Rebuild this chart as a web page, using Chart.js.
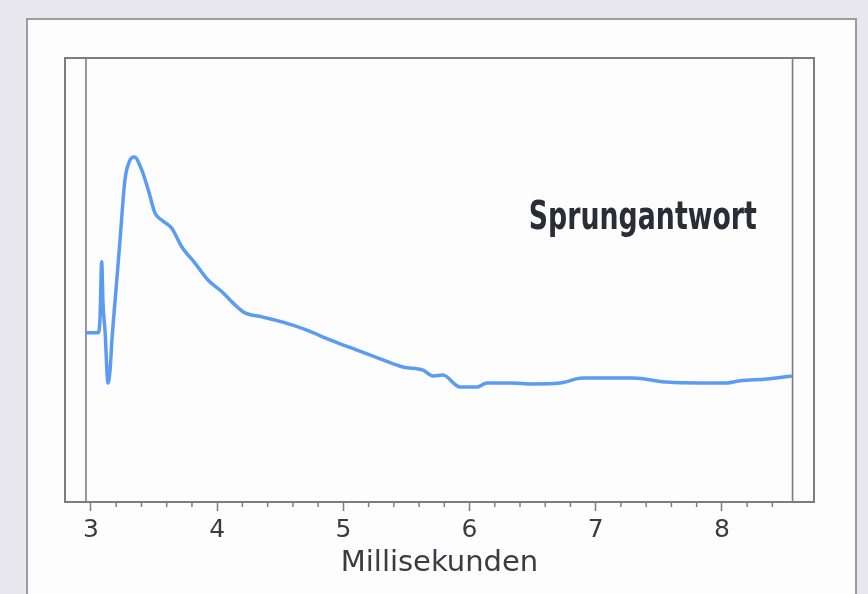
<!DOCTYPE html>
<html>
<head>
<meta charset="utf-8">
<script src="https://cdn.jsdelivr.net/npm/chart.js@4.4.1/dist/chart.umd.min.js"></script>
<style>
  html, body { margin: 0; padding: 0; }
  body { width: 868px; height: 594px; background: #e8e7ed; position: relative; overflow: hidden; }
  .panel {
    position: absolute; left: 26px; top: 18px; width: 827px; height: 600px;
    background: #fdfdfd; border: 2px solid #9c9ba3;
  }
  #wrap { position: absolute; left: 0; top: 0; width: 868px; height: 594px; }
</style>
</head>
<body>
<div class="panel"></div>
<div id="wrap"><canvas id="stepChart" width="868" height="594"></canvas></div>
<script>
// Sprungantwort (y in arbitrary units, 0..100 = frame bottom..top)
const timeMs = [2.96, 3.055, 3.071, 3.085, 3.095, 3.111, 3.135, 3.151, 3.166, 3.198,
  3.23, 3.269, 3.309, 3.343, 3.402, 3.454, 3.507, 3.56, 3.639, 3.719,
  3.824, 3.927, 4.036, 4.141, 4.22, 4.355, 4.521, 4.712, 4.894, 5.108,
  5.314, 5.472, 5.631, 5.71, 5.789, 5.924, 6.059, 6.138, 6.32, 6.502,
  6.716, 6.898, 7.295, 7.564, 7.826, 8.04, 8.143, 8.357, 8.555];
const response = [38.1, 38.1, 41.0, 54.1, 44.8, 38.7, 26.8, 29.7, 36.5, 47.7,
  59.0, 72.5, 77.0, 77.7, 74.8, 70.3, 65.1, 63.5, 61.7, 57.5,
  53.8, 50.0, 47.4, 44.4, 42.6, 41.7, 40.5, 38.7, 36.5, 34.2,
  32.0, 30.4, 29.7, 28.4, 28.6, 25.9, 25.9, 26.8, 26.8, 26.6,
  26.8, 27.9, 27.9, 27.0, 26.8, 26.8, 27.3, 27.7, 28.4];

const majorTicks = [3, 4, 5, 6, 7, 8];
const minorTicks = [3.2, 3.4, 3.6, 3.8, 4.2, 4.4, 4.6, 4.8, 5.2, 5.4, 5.6, 5.8,
  6.2, 6.4, 6.6, 6.8, 7.2, 7.4, 7.6, 7.8, 8.2, 8.4];
const boundaryLines = [2.96, 8.56];

const xRange = [2.794, 8.73];
const yRange = [0, 100];
const seriesLabel = "Sprungantwort";
const labelAt = { x: 6.47, y: 61.5 };
const labelWidth = 228;

const lineBlue = "#5b9cf2";
const frameGray = "#7d7c84";

const points = timeMs.map((t, i) => ({ x: t, y: response[i] }));
const isMajor = (v) => majorTicks.some((m) => Math.abs(m - v) < 1e-6);

const frameAndLabel = {
  id: "frameAndLabel",
  afterDraw(chart) {
    const { ctx, chartArea, scales } = chart;
    ctx.save();
    // minor ticks, shorter than the major ones
    ctx.strokeStyle = frameGray;
    ctx.lineWidth = 1.5;
    minorTicks.forEach((v) => {
      const px = scales.x.getPixelForValue(v);
      ctx.beginPath();
      ctx.moveTo(px, chartArea.bottom);
      ctx.lineTo(px, chartArea.bottom + 5);
      ctx.stroke();
    });
    // plot frame
    ctx.lineWidth = 2;
    ctx.strokeRect(chartArea.left, chartArea.top, chartArea.width, chartArea.height);
    // in-plot label, squeezed to the narrow face of the original
    ctx.fillStyle = "#2c2c36";
    ctx.font = 'bold 39px "Liberation Sans Narrow", "DejaVu Sans Condensed", "DejaVu Sans", sans-serif';
    ctx.textBaseline = "alphabetic";
    const w = ctx.measureText(seriesLabel).width;
    ctx.translate(scales.x.getPixelForValue(labelAt.x), scales.y.getPixelForValue(labelAt.y));
    ctx.scale(Math.min(1, labelWidth / w), 1);
    ctx.fillText(seriesLabel, 0, 0);
    ctx.restore();
  }
};

new Chart(document.getElementById("stepChart").getContext("2d"), {
  type: "scatter",
  data: {
    datasets: [
      {
        label: seriesLabel,
        data: points,
        showLine: true,
        borderColor: lineBlue,
        borderWidth: 3.5,
        pointRadius: 0,
        cubicInterpolationMode: "monotone",
        order: 0
      },
      ...boundaryLines.map((v) => ({
        label: "grenze",
        data: [{ x: v, y: yRange[0] }, { x: v, y: yRange[1] }],
        showLine: true,
        borderColor: frameGray,
        borderWidth: 1.6,
        pointRadius: 0,
        order: 1
      }))
    ]
  },
  options: {
    responsive: false,
    animation: false,
    layout: { padding: { left: 65, right: 54, top: 58, bottom: 0 } },
    plugins: { legend: { display: false }, tooltip: { enabled: false } },
    scales: {
      x: {
        type: "linear",
        min: xRange[0],
        max: xRange[1],
        afterFit: (scale) => { scale.height = 92; },
        afterBuildTicks: (scale) => {
          scale.ticks = majorTicks.map((v) => ({ value: v }));
        },
        border: { display: false },
        grid: {
          drawOnChartArea: false,
          drawTicks: true,
          tickLength: 9,
          tickWidth: 1.5,
          tickColor: frameGray
        },
        ticks: {
          color: "#3b3b42",
          padding: 4,
          font: { family: '"DejaVu Sans", sans-serif', size: 25 },
          callback: (v) => (isMajor(v) ? String(Math.round(v)) : "")
        },
        title: {
          display: true,
          text: "Millisekunden",
          color: "#3b3b42",
          padding: { top: 0, bottom: 13 },
          font: { family: '"DejaVu Sans", sans-serif', size: 29 }
        }
      },
      y: {
        display: false,
        min: yRange[0],
        max: yRange[1]
      }
    }
  },
  plugins: [frameAndLabel]
});
</script>
</body>
</html>
